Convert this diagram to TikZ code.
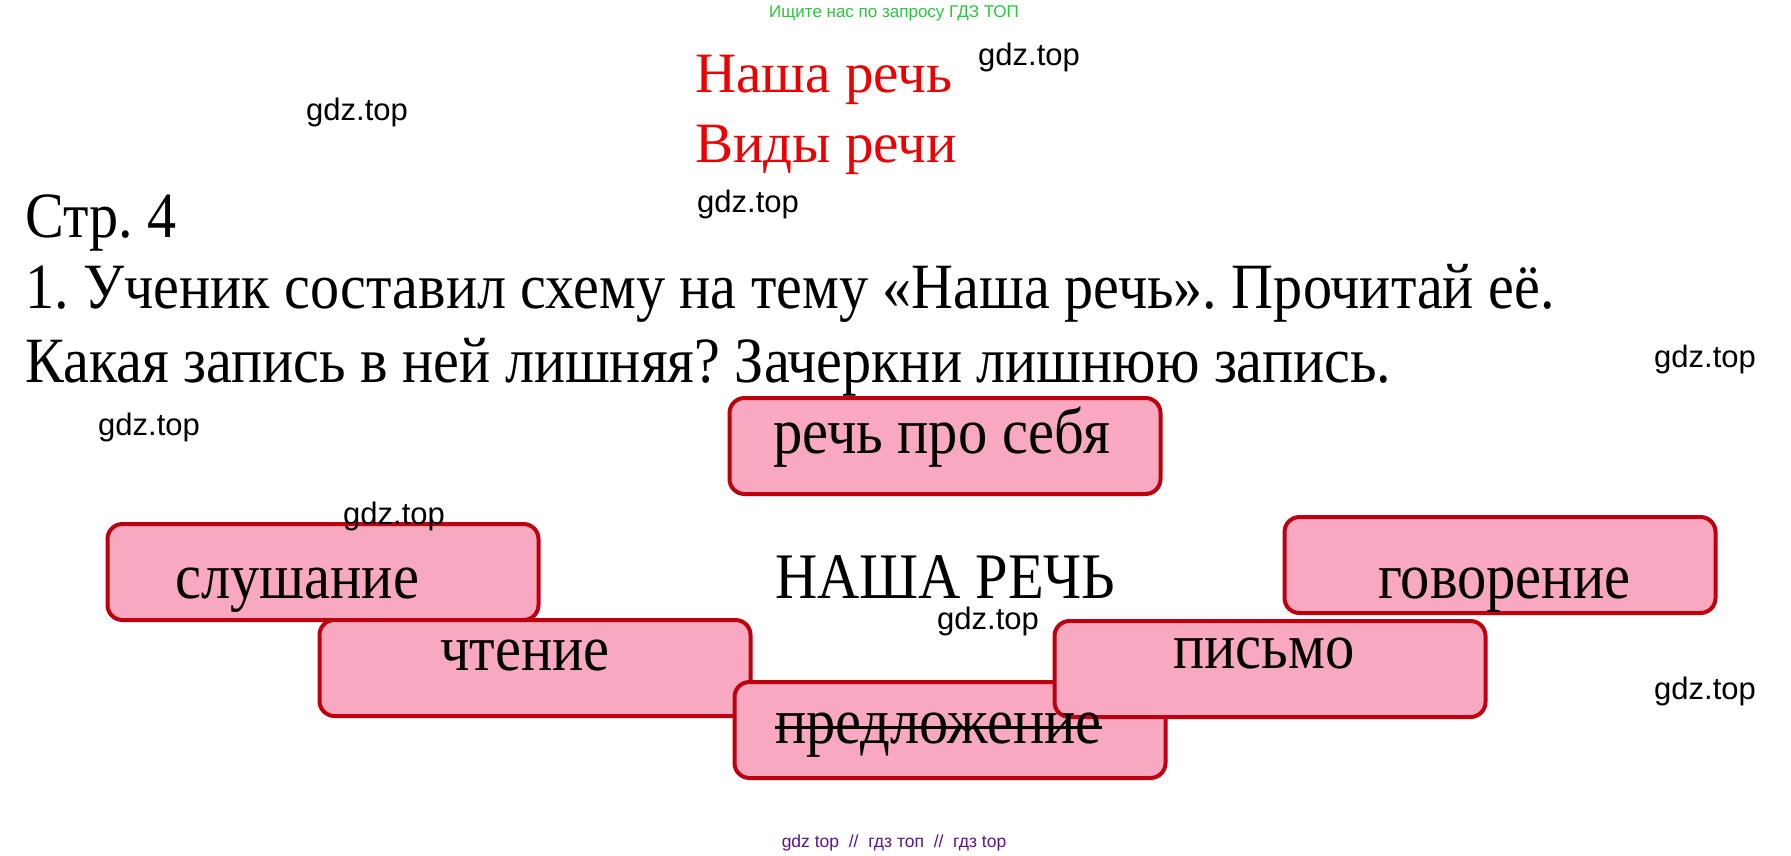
\documentclass[tikz,border=0pt]{standalone}
\usepackage{fontspec}
\setmainfont{Liberation Serif}
\newfontfamily\bodyfont[FakeStretch=0.9]{Liberation Serif}
\newfontfamily\wmfont{Liberation Sans}
\usetikzlibrary{positioning}
\definecolor{boxfill}{RGB}{248,168,192}
\definecolor{boxedge}{RGB}{190,0,14}
\definecolor{titlered}{RGB}{236,0,0}
\definecolor{topgreen}{RGB}{40,200,60}
\definecolor{footpurple}{RGB}{90,20,140}
\tikzset{word box/.style={rectangle, draw=boxedge, fill=boxfill, line width=4pt,
    rounded corners=15pt, minimum width=431pt, minimum height=96pt, inner sep=0pt}}
\tikzset{word text/.style={anchor=base west, inner sep=0pt, font=\bodyfont\fontsize{65}{65}\selectfont}}
\tikzset{body text/.style={anchor=base west, inner sep=0pt, font=\bodyfont\fontsize{64.6}{65}\selectfont}}
\tikzset{title text/.style={anchor=base west, inner sep=0pt, text=titlered, font=\fontsize{57}{57}\selectfont}}
\tikzset{watermark/.style={anchor=base west, inner sep=0pt, font=\wmfont\fontsize{31}{31}\selectfont}}
\tikzset{strike/.style={draw=black, line width=3pt}}
\frenchspacing

\begin{document}
\begin{tikzpicture}
      [x=1pt, y=-1pt]
      \useasboundingbox [fill=white] (0,0) rectangle (1791,855);
      % header and question
      \node [anchor=base, inner sep=0pt, text=topgreen, font=\wmfont\fontsize{17}{17}\selectfont]
            (top0) at (894, 17) {Ищите нас по запросу ГДЗ ТОП};
      \node [title text] (title0) at (695,  92) {Наша речь};
      \node [title text] (title1) at (695, 162) {Виды речи};
      \node [body text]  (line0)  at ( 25, 237) {Стр. 4};
      \node [body text]  (line1)  at ( 25, 308) {1. Ученик составил схему на тему «Наша речь». Прочитай её.};
      \node [body text]  (line2)  at ( 25, 382) {Какая запись в ней лишняя? Зачеркни лишнюю запись.};

      % the scheme
      \node [word box] (box0) at ( 323, 572) {};
      \node [word box] (box1) at ( 535, 668) {};
      \node [word box] (box2) at ( 950, 730) {};
      \node [word box] (box3) at (1270, 669) {};
      \node [word box] (box4) at (1500, 565) {};
      \node [word box] (box5) at ( 945, 446) {};
      \node [word text] (word0) at ( 175, 598) {слушание};
      \node [word text] (word1) at ( 440, 670) {чтение};
      \node [word text] (word2) at ( 775, 743) {предложение};
      \node [word text] (word3) at (1173, 668) {письмо};
      \node [word text] (word4) at (1378, 598) {говорение};
      \node [word text] (word5) at ( 773, 453) {речь про себя};
      \node [word text] (centre) at ( 775, 598) {НАША РЕЧЬ};
      \draw [strike] ([yshift=16pt]word2.base west) -- ([yshift=16pt]word2.base east);

      % watermarks
      \node [watermark] (wm0) at ( 978,  65) {gdz.top};
      \node [watermark] (wm1) at ( 306, 120) {gdz.top};
      \node [watermark] (wm2) at ( 697, 212) {gdz.top};
      \node [watermark] (wm3) at (1654, 367) {gdz.top};
      \node [watermark] (wm4) at (  98, 435) {gdz.top};
      \node [watermark] (wm5) at ( 343, 524) {gdz.top};
      \node [watermark] (wm6) at ( 937, 629) {gdz.top};
      \node [watermark] (wm7) at (1654, 699) {gdz.top};
      \node [anchor=base, inner sep=0pt, text=footpurple, font=\wmfont\fontsize{17.5}{17.5}\selectfont]
            (foot0) at (894, 847) {gdz top \ // \ гдз топ \ // \ гдз top};
    \end{tikzpicture}
\end{document}
